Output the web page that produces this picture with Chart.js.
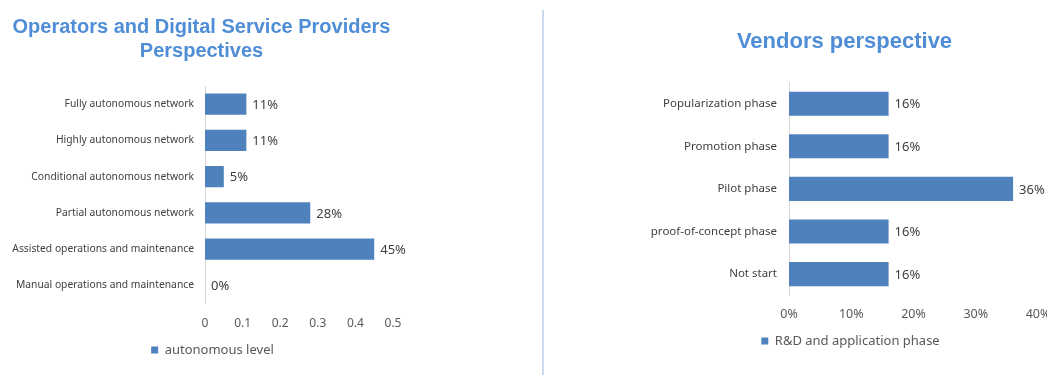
<!DOCTYPE html>
<html>
<head>
<meta charset="utf-8">
<script src="https://cdn.jsdelivr.net/npm/chart.js@4.4.1/dist/chart.umd.min.js"></script>
<style>
  html, body { margin:0; padding:0; background:#fff; overflow:hidden; }
  #wrap { position:relative; width:1047px; height:375px; overflow:hidden; background:#fff; }
  #leftBox { position:absolute; left:0; top:0; width:520px; height:375px; }
  #rightBox { position:absolute; left:545px; top:0; width:520px; height:375px; }
  #sep { position:absolute; left:542px; top:10px; width:2px; height:365px; background:#c9d9ee; }
</style>
</head>
<body>
<div id="wrap">
  <div id="leftBox"><canvas id="leftChart" width="520" height="375"></canvas></div>
  <div id="sep"></div>
  <div id="rightBox"><canvas id="rightChart" width="520" height="375"></canvas></div>
</div>
<script>
// ---------- data ----------
const leftTitle = ['Operators and Digital Service Providers', 'Perspectives'];
const leftCategories = [
  'Fully autonomous network',
  'Highly autonomous network',
  'Conditional autonomous network',
  'Partial autonomous network',
  'Assisted operations and maintenance',
  'Manual operations and maintenance'
];
const leftSeriesName = 'autonomous level';
const leftValues = [0.11, 0.11, 0.05, 0.28, 0.45, 0.00];
const leftTickLabels = ['0', '0.1', '0.2', '0.3', '0.4', '0.5'];

const rightTitle = 'Vendors perspective';
const rightCategories = [
  'Popularization phase',
  'Promotion phase',
  'Pilot phase',
  'proof-of-concept phase',
  'Not start'
];
const rightSeriesName = 'R&D and application phase';
const rightValues = [0.16, 0.16, 0.36, 0.16, 0.16];
const rightTickLabels = ['0%', '10%', '20%', '30%', '40%'];

// ---------- styling ----------
const BAR = '#4f81bd';
const TITLE = '#4f8ed6';
const TXT = '#404040';
const TICK = '#595959';
const FONT = "'Noto Sans', 'Open Sans', sans-serif";
const TFONT = "'Liberation Sans', Arial, sans-serif";

Chart.defaults.animation = false;
Chart.defaults.font.family = FONT;

// data labels plugin
const valueLabels = {
  id: 'valueLabels',
  afterDatasetsDraw(chart, args, opts) {
    const ctx = chart.ctx;
    ctx.save();
    ctx.font = opts.font;
    ctx.fillStyle = opts.color;
    ctx.textAlign = 'left';
    ctx.textBaseline = 'middle';
    chart.data.datasets.forEach((ds, di) => {
      chart.getDatasetMeta(di).data.forEach((el, i) => {
        const v = ds.data[i];
        ctx.fillText(Math.round(v * 100) + '%', el.x + opts.offset, el.y + 1);
      });
    });
    ctx.restore();
  }
};

// shift title / legend horizontally
const shiftBoxes = {
  id: 'shiftBoxes',
  afterLayout(chart, args, opts) {
    const t = chart.titleBlock, l = chart.legend;
    if (t && opts.titleDx) { t.left += opts.titleDx; t.right += opts.titleDx; }
    if (l && opts.legendDx) { l.left += opts.legendDx; l.right += opts.legendDx; }
  }
};

function makeChart(id, cfg) {
  return new Chart(document.getElementById(id), {
    type: 'bar',
    data: {
      labels: cfg.categories,
      datasets: [{
        label: cfg.seriesName,
        data: cfg.values,
        backgroundColor: BAR,
        borderWidth: 0,
        barPercentage: cfg.barPct,
        categoryPercentage: 1.0
      }]
    },
    plugins: [valueLabels, shiftBoxes],
    options: {
      responsive: false,
      indexAxis: 'y',
      layout: { padding: cfg.padding },
      scales: {
        x: {
          min: 0, max: cfg.max,
          ticks: {
            stepSize: cfg.step,
            font: { size: cfg.tickSize },
            color: TICK,
            padding: cfg.tickPad,
            callback: (v, i) => cfg.tickLabels[i]
          },
          grid: { display: false, drawTicks: false },
          border: { display: false }
        },
        y: {
          ticks: { font: { size: cfg.catSize }, color: TXT, padding: cfg.catPad },
          grid: { display: false, drawTicks: false },
          border: { display: true, color: '#d9d9d9', width: 1 },
          afterFit(s) { s.width = cfg.yWidth; }
        }
      },
      plugins: {
        title: {
          display: true,
          text: cfg.title,
          color: TITLE,
          font: { family: TFONT, size: cfg.titleSize, weight: 'bold', lineHeight: 1.2 },
          padding: { top: 0, bottom: cfg.titleGap }
        },
        legend: {
          display: true,
          position: 'bottom',
          labels: {
            boxWidth: 7, boxHeight: 7,
            color: TICK,
            font: { size: 13 },
            padding: cfg.legendPad
          }
        },
        tooltip: { enabled: false },
        valueLabels: { font: '13px ' + FONT, color: TXT, offset: cfg.labelOffset },
        shiftBoxes: { titleDx: cfg.titleDx, legendDx: cfg.legendDx }
      }
    }
  });
}

makeChart('leftChart', {
  categories: leftCategories, seriesName: leftSeriesName, values: leftValues,
  tickLabels: leftTickLabels, title: leftTitle,
  max: 0.5, step: 0.1, barPct: 0.58,
  padding: { left: 0, right: 127, top: 15, bottom: 8.5 },
  tickSize: 12, tickPad: 12.8, catSize: 10.3, catPad: 11, yWidth: 205,
  titleSize: 20, titleGap: 23, legendPad: 0, labelOffset: 6,
  titleDx: 5, legendDx: 16
});

makeChart('rightChart', {
  categories: rightCategories, seriesName: rightSeriesName, values: rightValues,
  tickLabels: rightTickLabels, title: rightTitle,
  max: 0.4, step: 0.1, barPct: 0.565,
  padding: { left: 0, right: 27, top: 29, bottom: 17.5 },
  tickSize: 12.5, tickPad: 11.3, catSize: 11.5, catPad: 12, yWidth: 244,
  titleSize: 22, titleGap: 27, legendPad: 1.5, labelOffset: 6,
  titleDx: 53, legendDx: 59
});
</script>
</body>
</html>
